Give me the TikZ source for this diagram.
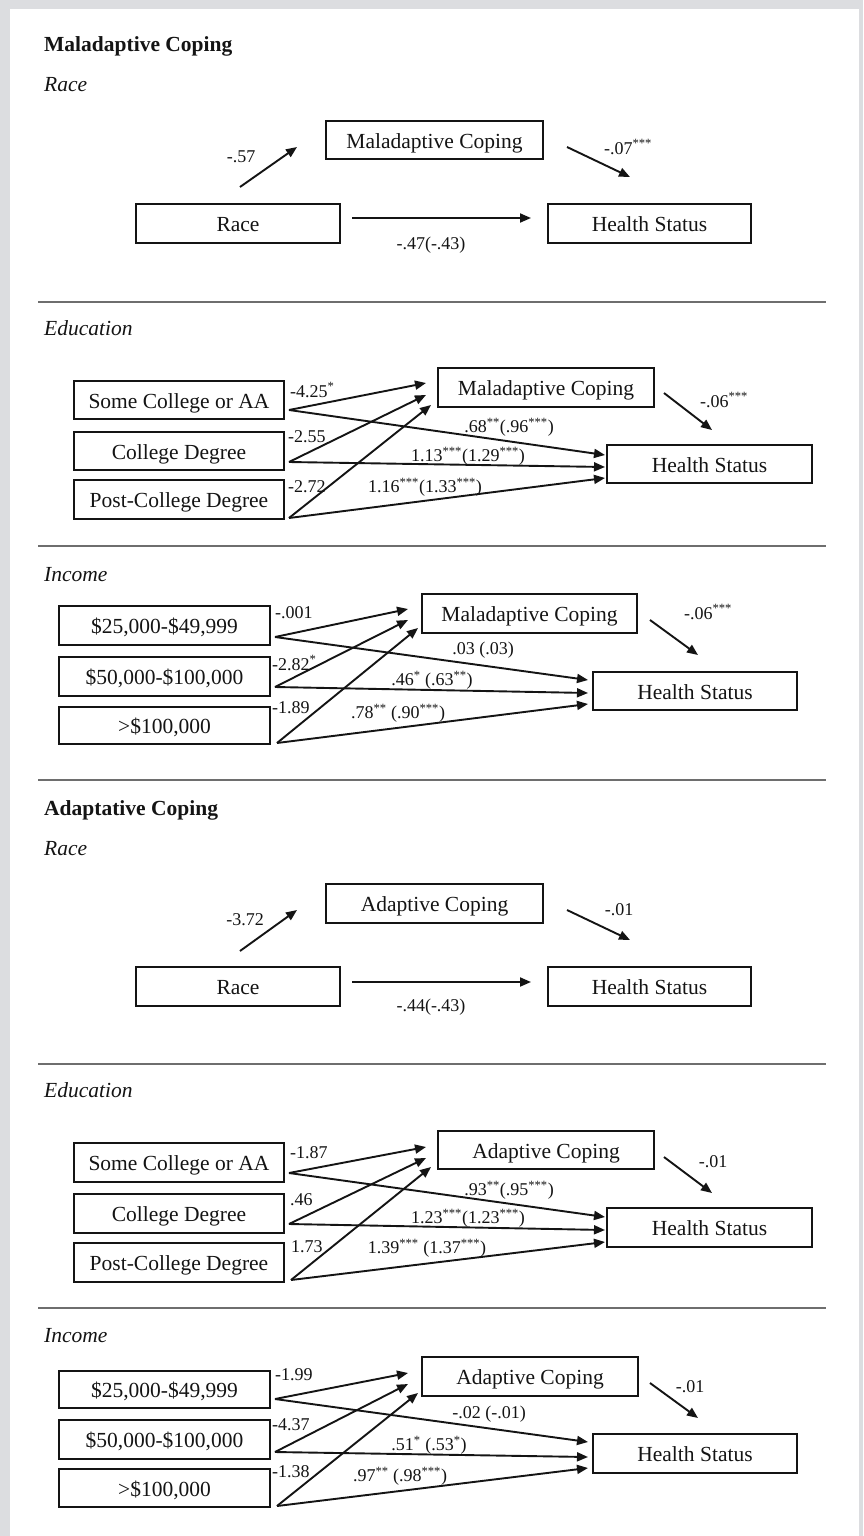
\documentclass[tikz,border=0pt]{standalone}
\usepackage{fontspec}
\setmainfont{Liberation Serif}
\usetikzlibrary{arrows.meta}
\definecolor{bggray}{HTML}{DCDDE0}
\definecolor{ink}{HTML}{141414}
\definecolor{rule}{HTML}{6E6E6E}
\newcommand{\boxfnt}{\fontsize{21.5}{25}\selectfont}
\newcommand{\lblfnt}{\fontsize{18}{22}\selectfont}
\newcommand{\st}[1]{\textsuperscript{#1}}
\begin{document}
\begin{tikzpicture}[x=1pt,y=-1pt,
  bx/.style={draw=ink, line width=1.9pt, inner sep=0pt, font=\boxfnt, text=ink, text height=16pt, text depth=0pt},
  lbl/.style={inner sep=0pt, font=\lblfnt, text=ink},
  ttl/.style={inner sep=0pt, font=\boxfnt\bfseries, anchor=base west, text=ink},
  sub/.style={inner sep=0pt, font=\boxfnt\itshape, anchor=base west, text=ink},
  arr/.style={draw=ink, line width=1.9pt, -{Triangle[length=11pt,width=9pt]}},
  sep/.style={draw=rule, line width=2pt}]
\useasboundingbox (0,0) rectangle (863,1536);
\fill[bggray] (0,0) rectangle (863,1536);
\fill[white] (10,9) rectangle (859,1536);
% separators
\coordinate (l1a) at (38,302); \coordinate (l1b) at (826,302);
\coordinate (l2a) at (38,546); \coordinate (l2b) at (826,546);
\coordinate (l3a) at (38,780); \coordinate (l3b) at (826,780);
\coordinate (l4a) at (38,1064); \coordinate (l4b) at (826,1064);
\coordinate (l5a) at (38,1308); \coordinate (l5b) at (826,1308);
\draw[sep] (l1a) -- (l1b);
\draw[sep] (l2a) -- (l2b);
\draw[sep] (l3a) -- (l3b);
\draw[sep] (l4a) -- (l4b);
\draw[sep] (l5a) -- (l5b);

% ===== Panel 1: Maladaptive / Race
\node[ttl] (t1) at (44,52) {Maladaptive Coping};
\node[sub] (s1) at (44,92) {Race};
\node[bx, minimum width=217pt, minimum height=38pt] (mal1) at (434.5,140) {Maladaptive Coping};
\node[bx, minimum width=204pt, minimum height=39pt] (race1) at (238,223.5) {Race};
\node[bx, minimum width=203pt, minimum height=39pt] (hs1) at (649.5,223.5) {Health Status};
\coordinate (r1a) at (240,187); \coordinate (r1b) at (297,147);
\coordinate (r1c) at (567,147); \coordinate (r1d) at (630,177);
\coordinate (r1e) at (352,218); \coordinate (r1f) at (531,218);
\draw[arr] (r1a) -- (r1b);
\draw[arr] (r1c) -- (r1d);
\draw[arr] (r1e) -- (r1f);
\node[lbl] (p1a) at (241,157) {-.57};
\node[lbl] (p1b) at (628,147) {-.07\st{***}};
\node[lbl] (p1c) at (431,245) {-.47(-.43)};

% ===== Panel 2: Maladaptive / Education
\node[sub] (s2) at (44,335) {Education};
\node[bx, minimum width=210pt, minimum height=38pt] (sc1) at (179,400) {Some College or AA};
\node[bx, minimum width=210pt, minimum height=38pt] (cd1) at (179,451) {College Degree};
\node[bx, minimum width=210pt, minimum height=39pt] (pc1) at (179,499.5) {Post-College Degree};
\node[bx, minimum width=216pt, minimum height=39pt] (mal2) at (546,387.5) {Maladaptive Coping};
\node[bx, minimum width=205pt, minimum height=38pt] (hs2) at (709.5,464) {Health Status};
\coordinate (e1s1) at (289,410); \coordinate (e1s2) at (289,462); \coordinate (e1s3) at (289,518);
\coordinate (e1m1) at (426,383); \coordinate (e1m2) at (426,395); \coordinate (e1m3) at (431,405);
\coordinate (e1h1) at (605,455); \coordinate (e1h2) at (605,467); \coordinate (e1h3) at (605,478);
\coordinate (e1x) at (664,393); \coordinate (e1y) at (712,430);
\draw[arr] (e1s1) -- (e1m1);
\draw[arr] (e1s2) -- (e1m2);
\draw[arr] (e1s3) -- (e1m3);
\draw[arr] (e1s1) -- (e1h1);
\draw[arr] (e1s2) -- (e1h2);
\draw[arr] (e1s3) -- (e1h3);
\draw[arr] (e1x) -- (e1y);
\node[lbl, anchor=west] (q1a) at (290,390) {-4.25\st{*}};
\node[lbl, anchor=west] (q1b) at (288,437) {-2.55};
\node[lbl, anchor=west] (q1c) at (288,487) {-2.72};
\node[lbl] (q1d) at (509,427) {.68\st{**}(.96\st{***})};
\node[lbl] (q1e) at (468,456) {1.13\st{***}(1.29\st{***})};
\node[lbl] (q1f) at (425,487) {1.16\st{***}(1.33\st{***})};
\node[lbl] (q1g) at (724,400) {-.06\st{***}};

% ===== Panel 3: Maladaptive / Income
\node[sub] (s3) at (44,581) {Income};
\node[bx, minimum width=211pt, minimum height=39pt] (ia1) at (164.5,625.5) {\$25,000-\$49,999};
\node[bx, minimum width=211pt, minimum height=39pt] (ib1) at (164.5,676.5) {\$50,000-\$100,000};
\node[bx, minimum width=211pt, minimum height=37pt] (ic1) at (164.5,725.5) {>\$100,000};
\node[bx, minimum width=215pt, minimum height=39pt] (mal3) at (529.5,613.5) {Maladaptive Coping};
\node[bx, minimum width=204pt, minimum height=38pt] (hs3) at (695,691) {Health Status};
\coordinate (i1s1) at (275,637); \coordinate (i1s2) at (275,687); \coordinate (i1s3) at (277,743);
\coordinate (i1m1) at (408,609); \coordinate (i1m2) at (408,620); \coordinate (i1m3) at (418,628);
\coordinate (i1h1) at (588,680); \coordinate (i1h2) at (588,693); \coordinate (i1h3) at (588,704);
\coordinate (i1x) at (650,620); \coordinate (i1y) at (698,655);
\draw[arr] (i1s1) -- (i1m1);
\draw[arr] (i1s2) -- (i1m2);
\draw[arr] (i1s3) -- (i1m3);
\draw[arr] (i1s1) -- (i1h1);
\draw[arr] (i1s2) -- (i1h2);
\draw[arr] (i1s3) -- (i1h3);
\draw[arr] (i1x) -- (i1y);
\node[lbl, anchor=west] (u1a) at (275,613) {-.001};
\node[lbl, anchor=west] (u1b) at (272,663) {-2.82\st{*}};
\node[lbl, anchor=west] (u1c) at (272,708) {-1.89};
\node[lbl] (u1d) at (483,650) {.03 (.03)};
\node[lbl] (u1e) at (432,680) {.46\st{*} (.63\st{**})};
\node[lbl] (u1f) at (398,713) {.78\st{**} (.90\st{***})};
\node[lbl] (u1g) at (708,612) {-.06\st{***}};

% ===== Panel 4: Adaptive / Race
\node[ttl] (t2) at (44,815) {Adaptative Coping};
\node[sub] (s4) at (44,855) {Race};
\node[bx, minimum width=217pt, minimum height=39pt] (ad1) at (434.5,903.5) {Adaptive Coping};
\node[bx, minimum width=204pt, minimum height=39pt] (race2) at (238,986.5) {Race};
\node[bx, minimum width=203pt, minimum height=39pt] (hs4) at (649.5,986.5) {Health Status};
\coordinate (r2a) at (240,951); \coordinate (r2b) at (297,910);
\coordinate (r2c) at (567,910); \coordinate (r2d) at (630,940);
\coordinate (r2e) at (352,982); \coordinate (r2f) at (531,982);
\draw[arr] (r2a) -- (r2b);
\draw[arr] (r2c) -- (r2d);
\draw[arr] (r2e) -- (r2f);
\node[lbl] (p2a) at (245,920) {-3.72};
\node[lbl] (p2b) at (619,910) {-.01};
\node[lbl] (p2c) at (431,1007) {-.44(-.43)};

% ===== Panel 5: Adaptive / Education
\node[sub] (s5) at (44,1097) {Education};
\node[bx, minimum width=210pt, minimum height=39pt] (sc2) at (179,1162.5) {Some College or AA};
\node[bx, minimum width=210pt, minimum height=39pt] (cd2) at (179,1213.5) {College Degree};
\node[bx, minimum width=210pt, minimum height=39pt] (pc2) at (179,1262.5) {Post-College Degree};
\node[bx, minimum width=216pt, minimum height=38pt] (ad2) at (546,1150) {Adaptive Coping};
\node[bx, minimum width=205pt, minimum height=39pt] (hs5) at (709.5,1227.5) {Health Status};
\coordinate (e2s1) at (289,1173); \coordinate (e2s2) at (289,1224); \coordinate (e2s3) at (291,1280);
\coordinate (e2m1) at (426,1147); \coordinate (e2m2) at (426,1158); \coordinate (e2m3) at (431,1167);
\coordinate (e2h1) at (605,1217); \coordinate (e2h2) at (605,1230); \coordinate (e2h3) at (605,1242);
\coordinate (e2x) at (664,1157); \coordinate (e2y) at (712,1193);
\draw[arr] (e2s1) -- (e2m1);
\draw[arr] (e2s2) -- (e2m2);
\draw[arr] (e2s3) -- (e2m3);
\draw[arr] (e2s1) -- (e2h1);
\draw[arr] (e2s2) -- (e2h2);
\draw[arr] (e2s3) -- (e2h3);
\draw[arr] (e2x) -- (e2y);
\node[lbl, anchor=west] (q2a) at (290,1153) {-1.87};
\node[lbl, anchor=west] (q2b) at (290,1200) {.46};
\node[lbl, anchor=west] (q2c) at (291,1247) {1.73};
\node[lbl] (q2d) at (509,1190) {.93\st{**}(.95\st{***})};
\node[lbl] (q2e) at (468,1218) {1.23\st{***}(1.23\st{***})};
\node[lbl] (q2f) at (427,1248) {1.39\st{***} (1.37\st{***})};
\node[lbl] (q2g) at (713,1162) {-.01};

% ===== Panel 6: Adaptive / Income
\node[sub] (s6) at (44,1342) {Income};
\node[bx, minimum width=211pt, minimum height=37pt] (ia2) at (164.5,1389.5) {\$25,000-\$49,999};
\node[bx, minimum width=211pt, minimum height=39pt] (ib2) at (164.5,1439.5) {\$50,000-\$100,000};
\node[bx, minimum width=211pt, minimum height=38pt] (ic2) at (164.5,1488) {>\$100,000};
\node[bx, minimum width=216pt, minimum height=39pt] (ad3) at (530,1376.5) {Adaptive Coping};
\node[bx, minimum width=204pt, minimum height=39pt] (hs6) at (695,1453.5) {Health Status};
\coordinate (i2s1) at (275,1399); \coordinate (i2s2) at (275,1452); \coordinate (i2s3) at (277,1506);
\coordinate (i2m1) at (408,1373); \coordinate (i2m2) at (408,1384); \coordinate (i2m3) at (418,1393);
\coordinate (i2h1) at (588,1442); \coordinate (i2h2) at (588,1457); \coordinate (i2h3) at (588,1468);
\coordinate (i2x) at (650,1383); \coordinate (i2y) at (698,1418);
\draw[arr] (i2s1) -- (i2m1);
\draw[arr] (i2s2) -- (i2m2);
\draw[arr] (i2s3) -- (i2m3);
\draw[arr] (i2s1) -- (i2h1);
\draw[arr] (i2s2) -- (i2h2);
\draw[arr] (i2s3) -- (i2h3);
\draw[arr] (i2x) -- (i2y);
\node[lbl, anchor=west] (u2a) at (275,1375) {-1.99};
\node[lbl, anchor=west] (u2b) at (272,1425) {-4.37};
\node[lbl, anchor=west] (u2c) at (272,1472) {-1.38};
\node[lbl] (u2d) at (489,1414) {-.02 (-.01)};
\node[lbl] (u2e) at (429,1445) {.51\st{*} (.53\st{*})};
\node[lbl] (u2f) at (400,1476) {.97\st{**} (.98\st{***})};
\node[lbl] (u2g) at (690,1387) {-.01};
\end{tikzpicture}
\end{document}
